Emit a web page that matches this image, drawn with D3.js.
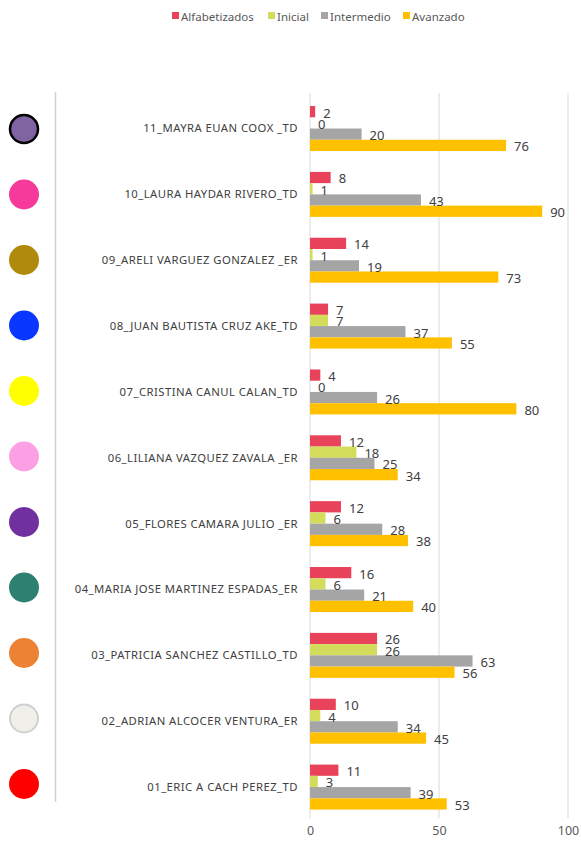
<!DOCTYPE html>
<html><head><meta charset="utf-8">
<script src="https://cdn.jsdelivr.net/npm/d3@7"></script>
<style>
body{margin:0;background:#fff;}
svg{display:block;font-family:"Noto Sans","DejaVu Sans",sans-serif;}
</style></head>
<body><svg id="c" width="581" height="843"></svg>
<script>
const categories = ["11_MAYRA EUAN COOX _TD","10_LAURA HAYDAR RIVERO_TD","09_ARELI VARGUEZ GONZALEZ _ER","08_JUAN BAUTISTA CRUZ AKE_TD","07_CRISTINA CANUL CALAN_TD","06_LILIANA VAZQUEZ ZAVALA _ER","05_FLORES CAMARA JULIO _ER","04_MARIA JOSE MARTINEZ ESPADAS_ER","03_PATRICIA SANCHEZ CASTILLO_TD","02_ADRIAN ALCOCER VENTURA_ER","01_ERIC A CACH PEREZ_TD"];
const seriesNames = ["Alfabetizados","Inicial","Intermedio","Avanzado"];
const alfabetizados = [2,8,14,7,4,12,12,16,26,10,11];
const inicial = [0,1,1,7,0,18,6,6,26,4,3];
const intermedio = [20,43,19,37,26,25,28,21,63,34,39];
const avanzado = [76,90,73,55,80,34,38,40,56,45,53];
const xTicks = [0,50,100];
const seriesColors = ["#e8435a","#d4dc5c","#a5a5a5","#ffc000"];
const markerFill = ["#8064a2","#f63a9c","#b08a0c","#0a37ff","#ffff00","#fba0e4","#7030a0","#2e8070","#ee8234","#f0efe9","#ff0000"];
const markerStroke = ["#000000",null,null,null,null,null,null,null,null,"#d0d0d0",null];

const svg = d3.select("#c");
const seriesData = [alfabetizados, inicial, intermedio, avanzado];

const x = d3.scaleLinear().domain([0,100]).range([310,568]);
const y0 = d3.scaleBand().domain(categories).range([95.6,820]).paddingInner(0.317).paddingOuter(0.1585);
const y1 = d3.scaleBand().domain(seriesNames).range([0,y0.bandwidth()]);
const yc = d3.scalePoint().domain(categories).range([129,784]);

// legend
const legendX = [172,268,321,403];
const lg = svg.append("g");
seriesNames.forEach((s,i)=>{
  lg.append("rect").attr("x",legendX[i]).attr("y",12).attr("width",7).attr("height",7).attr("fill",seriesColors[i]);
  lg.append("text").attr("x",legendX[i]+9).attr("y",20.5).attr("font-size",11.5).attr("fill","#595959").text(s);
});

// gridlines
svg.append("g").selectAll("line").data(xTicks).join("line")
  .attr("x1",d=>x(d)).attr("x2",d=>x(d)).attr("y1",93).attr("y2",818)
  .attr("stroke","#d9d9d9").attr("stroke-width",1);

// left divider
svg.append("line").attr("x1",55.5).attr("x2",55.5).attr("y1",92).attr("y2",802).attr("stroke","#d0d0d0").attr("stroke-width",1.5);

// axis labels
const ax = svg.append("g").attr("transform","translate(0,826)").call(d3.axisBottom(x).tickValues(xTicks).tickSize(0).tickPadding(0));
ax.select(".domain").remove();
ax.selectAll("text").attr("font-size",12.5).attr("fill","#595959").attr("font-family","Noto Sans, DejaVu Sans, sans-serif").attr("dy","0.71em");

// category labels
svg.append("g").selectAll("text").data(categories).join("text")
  .attr("x",298).attr("y",d=>y0(d)+y0.bandwidth()/2).attr("dy","0.35em")
  .attr("text-anchor","end").attr("font-size",11.3).attr("letter-spacing",0.45).attr("fill","#404040").text(d=>d);

// bars
const rows = categories.map((c,ci)=>seriesNames.map((s,si)=>({c,s,si,v:seriesData[si][ci]})));
const g = svg.append("g").selectAll("g").data(rows).join("g").attr("transform",d=>`translate(0,${y0(d[0].c)})`);
g.selectAll("rect").data(d=>d).join("rect")
  .attr("x",x(0)).attr("y",d=>y1(d.s)).attr("width",d=>x(d.v)-x(0)).attr("height",y1.bandwidth())
  .attr("fill",d=>seriesColors[d.si]);
g.selectAll("text").data(d=>d).join("text")
  .attr("x",d=>x(d.v)+8).attr("y",d=>y1(d.s)+y1.bandwidth()/2+1).attr("dy","0.38em")
  .attr("font-size",13).attr("fill","#404040").text(d=>d.v);

// markers
svg.append("g").selectAll("circle").data(categories).join("circle")
  .attr("cx",24).attr("cy",d=>yc(d)).attr("r",d=>markerStroke[categories.indexOf(d)]?14:15)
  .attr("fill",(d,i)=>markerFill[i])
  .attr("stroke",(d,i)=>markerStroke[i]||"none").attr("stroke-width",(d,i)=>i===0?2.5:2);
</script></body></html>
